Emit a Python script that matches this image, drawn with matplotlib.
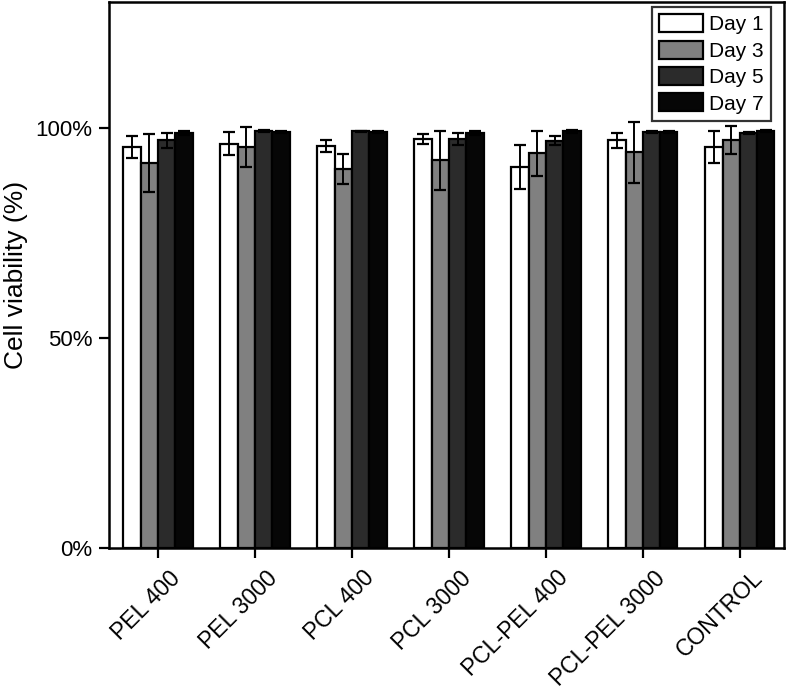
import matplotlib
matplotlib.use("Agg")
import matplotlib.pyplot as plt
import matplotlib.transforms as mtransforms
import numpy as np

plt.rcParams['font.family'] = ['Liberation Sans', 'DejaVu Sans']

categories = ["PEL 400", "PEL 3000", "PCL 400", "PCL 3000", "PCL-PEL 400", "PCL-PEL 3000", "CONTROL"]
series = ["Day 1", "Day 3", "Day 5", "Day 7"]
day1 = [95.5, 96.3, 95.8, 97.4, 90.7, 97.1, 95.4]
day3 = [91.6, 95.4, 90.2, 92.3, 94.0, 94.2, 97.1]
day5 = [97.1, 99.3, 99.2, 97.4, 97.0, 99.1, 98.8]
day7 = [98.8, 99.0, 99.0, 98.8, 99.2, 99.0, 99.3]
err1 = [2.7, 2.7, 1.4, 1.2, 5.2, 1.8, 3.8]
err3 = [6.9, 4.8, 3.5, 7.1, 5.4, 7.3, 3.4]
err5 = [1.8, 0.3, 0.2, 1.4, 1.0, 0.2, 0.3]
err7 = [0.4, 0.2, 0.2, 0.4, 0.3, 0.2, 0.3]
colors = ["#ffffff", "#808080", "#2b2b2b", "#060606"]

values = [day1, day3, day5, day7]
errors = [err1, err3, err5, err7]

fig = plt.figure(figsize=(7.9, 6.92), dpi=100)
ax = fig.add_axes([109/790, 1-548/692, (784-109)/790, (548-2)/692])

x = np.arange(len(categories))
w = 0.178
for i, (vals, errs, c, lab) in enumerate(zip(values, errors, colors, series)):
    pos = x + (i - 1.5) * w
    ax.bar(pos, vals, width=w, color=c, edgecolor="black", linewidth=1.6, label=lab, zorder=2)
    ax.errorbar(pos, vals, yerr=errs, fmt="none", ecolor="black", elinewidth=1.4,
                capsize=4.5, capthick=1.6, zorder=3)

ax.set_xlim(-0.505, 6.454)
ax.set_ylim(0, 130)
ax.set_yticks([0, 50, 100])
ax.set_yticklabels(["0%", "50%", "100%"], fontsize=16)
ax.set_xticks(x)
ax.set_xticklabels(categories, rotation=45, ha="right", va="center",
                   rotation_mode="anchor", fontsize=16.5)
ax.tick_params(axis="both", direction="out", length=7, width=1.6, pad=5)
offset = mtransforms.ScaledTranslation(0.19, -0.10, fig.dpi_scale_trans)
for lbl in ax.get_xticklabels():
    lbl.set_transform(lbl.get_transform() + offset)
for s in ax.spines.values():
    s.set_linewidth(1.8)
ax.set_ylabel("Cell viability (%)", fontsize=19, labelpad=5)

leg = ax.legend(loc="upper right", bbox_to_anchor=(771/790, 1 - 7/692), bbox_transform=fig.transFigure,
                fontsize=15, frameon=True, fancybox=False, edgecolor="black",
                handlelength=2.1, handleheight=0.95, labelspacing=0.3, handletextpad=0.3,
                borderpad=0.35, borderaxespad=0.0)
leg.get_frame().set_linewidth(1.6)
for p in leg.get_patches():
    p.set_linewidth(1.6)

fig.savefig("out.png", dpi=100)
